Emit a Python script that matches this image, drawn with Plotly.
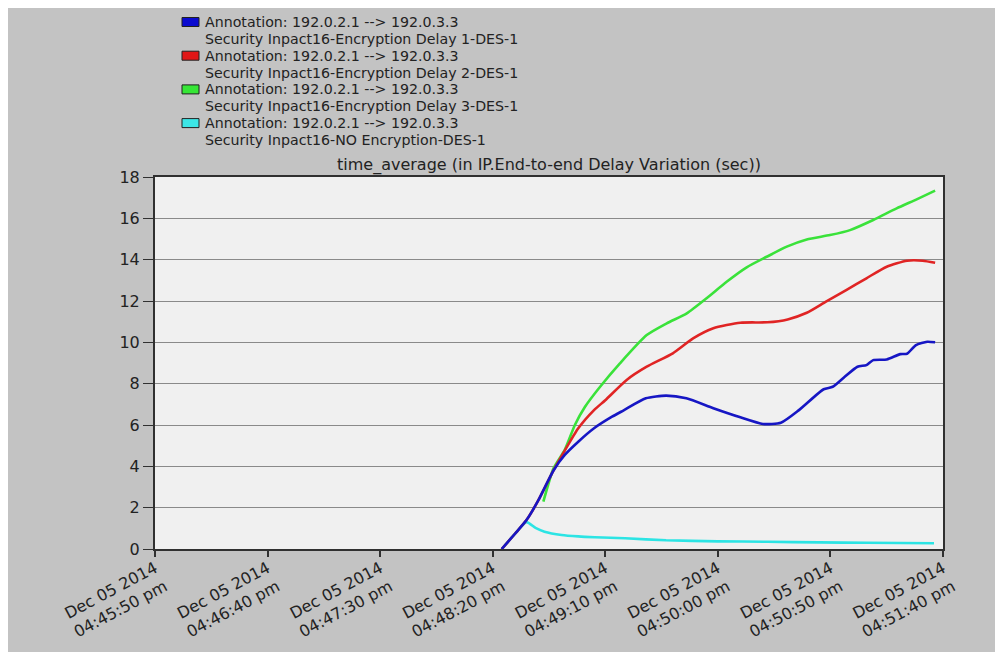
import pandas as pd
import plotly.graph_objects as go

# ---------------- data (seconds after Dec 05 2014 04:45:50 pm) ----------------
base_time = "2014-12-05 16:45:50"

blue_t = [154, 160, 165, 170, 177, 182, 188, 195, 203, 208, 218, 227, 236, 248, 260, 270, 278,
          286, 297, 301, 306, 312, 316, 319, 325, 331, 334, 338, 343, 346.5]
blue_v = [0, 0.75, 1.4, 2.3, 3.8, 4.55, 5.19, 5.84, 6.4, 6.7, 7.29, 7.42, 7.29, 6.81, 6.37, 6.05, 6.11,
          6.72, 7.73, 7.85, 8.3, 8.82, 8.9, 9.14, 9.17, 9.43, 9.45, 9.87, 10.03, 10.0]

red_t = [154, 160, 165, 170, 177, 182, 188, 195, 200, 209.5, 218.4, 230, 239, 248, 260, 272, 281,
         289.5, 298, 307, 316, 325, 334, 341, 346.5]
red_v = [0, 0.75, 1.4, 2.3, 3.8, 4.76, 5.84, 6.72, 7.2, 8.18, 8.82, 9.47, 10.19, 10.68, 10.95, 10.97, 11.11,
         11.43, 11.97, 12.53, 13.1, 13.66, 13.95, 13.95, 13.85]

green_t = [172.5, 177, 182, 186.5, 191, 197.7, 206.5, 218.4, 227.3, 236.2, 245, 253.9, 262.8, 271.7,
           280.6, 289.5, 299.8, 308.7, 319, 329.4, 338.3, 346.5]
green_v = [2.29, 3.9, 4.8, 6.0, 6.88, 7.85, 8.98, 10.35, 10.92, 11.4, 12.13, 12.93, 13.63, 14.14,
           14.63, 14.98, 15.19, 15.43, 15.92, 16.48, 16.92, 17.34]

cyan_t = [154, 160, 165, 169, 173, 180.6, 188, 195.4, 208.8, 227, 250, 272, 295, 316, 346]
cyan_v = [0, 0.75, 1.3, 1.02, 0.84, 0.68, 0.61, 0.57, 0.52, 0.42, 0.37, 0.35, 0.32, 0.30, 0.28]

tick_secs = [0, 50, 100, 150, 200, 250, 300, 350]
tick_labels = ["Dec 05 2014<br>04:45:50 pm", "Dec 05 2014<br>04:46:40 pm", "Dec 05 2014<br>04:47:30 pm",
               "Dec 05 2014<br>04:48:20 pm", "Dec 05 2014<br>04:49:10 pm", "Dec 05 2014<br>04:50:00 pm",
               "Dec 05 2014<br>04:50:50 pm", "Dec 05 2014<br>04:51:40 pm"]

legend_line1 = ["Annotation: 192.0.2.1 --> 192.0.3.3"] * 4
legend_line2 = ["Security Inpact16-Encryption Delay 1-DES-1",
                "Security Inpact16-Encryption Delay 2-DES-1",
                "Security Inpact16-Encryption Delay 3-DES-1",
                "Security Inpact16-NO Encryption-DES-1"]
series_colors = ["#1616C4", "#E02424", "#3AE23A", "#2CE4E4"]
swatch_colors = ["#0A0ACF", "#E01616", "#36E636", "#3CE6E6"]

chart_title = "time_average (in IP.End-to-end Delay Variation (sec))"

# ---------------- helpers ----------------
t0 = pd.Timestamp(base_time)


def to_time(secs):
    return [t0 + pd.Timedelta(seconds=s) for s in secs]


FONT = "DejaVu Sans, Arial, sans-serif"
TEXT_COL = "#222222"

fig = go.Figure()

series = [
    (cyan_t, cyan_v, series_colors[3]),
    (green_t, green_v, series_colors[2]),
    (red_t, red_v, series_colors[1]),
    (blue_t, blue_v, series_colors[0]),
]
for ts, vs, col in series:
    fig.add_trace(go.Scatter(
        x=to_time(ts), y=vs, mode="lines",
        line=dict(color=col, width=2.6, shape="spline", smoothing=0.6),
        showlegend=False, hoverinfo="skip",
    ))

# page offset (browser body margin)
OFF = 8
FW, FH = 1003, 652
# plot area in page pixels
L, R, T, B = 155, 943, 177, 549
W, H = R - L, B - T


def px(x):
    return (x - L) / W


def py(y):
    return (B - y) / H


shapes = []
annotations = []

# legend (swatches + two-line labels), text lines every ~16.85 px
LINE0, STEP = 22.0, 16.85
for i in range(4):
    y1 = LINE0 + STEP * (2 * i)
    y2 = LINE0 + STEP * (2 * i + 1)
    shapes.append(dict(type="rect", xref="paper", yref="paper",
                       x0=px(182), x1=px(199), y0=py(y1 - 4.5), y1=py(y1 + 4.5),
                       fillcolor=swatch_colors[i], line=dict(color="#202020", width=1)))
    annotations.append(dict(xref="paper", yref="paper", x=px(203), y=py(y1),
                            xanchor="left", yanchor="middle", showarrow=False,
                            text=legend_line1[i], font=dict(family=FONT, size=14.2, color=TEXT_COL)))
    annotations.append(dict(xref="paper", yref="paper", x=px(203), y=py(y2),
                            xanchor="left", yanchor="middle", showarrow=False,
                            text=legend_line2[i], font=dict(family=FONT, size=14.2, color=TEXT_COL)))

annotations.append(dict(xref="paper", yref="paper", x=px(549), y=py(165),
                        xanchor="center", yanchor="middle", showarrow=False,
                        text=chart_title, font=dict(family=FONT, size=16, color=TEXT_COL)))

# window frame strip on the right
shapes.append(dict(type="rect", xref="paper", yref="paper", layer="below",
                   x0=px(996), x1=px(1011), y0=py(660), y1=py(0),
                   fillcolor="#B9C2BB", line=dict(width=0)))

fig.update_layout(
    width=FW, height=FH,
    margin=dict(l=L - OFF, r=FW - (R - OFF), t=T - OFF, b=FH - (B - OFF), pad=0),
    paper_bgcolor="#C3C3C3",
    plot_bgcolor="#F0F0F0",
    shapes=shapes,
    annotations=annotations,
    showlegend=False,
    font=dict(family=FONT, size=15, color=TEXT_COL),
)

fig.update_xaxes(
    type="date",
    range=[t0, t0 + pd.Timedelta(seconds=350)],
    tickmode="array",
    tickvals=to_time(tick_secs),
    ticktext=tick_labels,
    tickangle=-28,
    ticklabelstandoff=-4,
    ticks="outside", ticklen=6, tickwidth=2, tickcolor="#303030",
    showgrid=False, zeroline=False,
    showline=True, linecolor="#303030", linewidth=2, mirror=True,
    tickfont=dict(family=FONT, size=16, color=TEXT_COL),
)
fig.update_yaxes(
    range=[0, 18],
    tickmode="array",
    tickvals=[0, 2, 4, 6, 8, 10, 12, 14, 16, 18],
    ticks="outside", ticklen=10, tickwidth=1, tickcolor="#303030",
    showgrid=True, gridcolor="#8A8A8A", gridwidth=1,
    zeroline=False,
    showline=True, linecolor="#303030", linewidth=2, mirror=True,
    tickfont=dict(family=FONT, size=16, color=TEXT_COL),
)

fig.write_html("out.html")
